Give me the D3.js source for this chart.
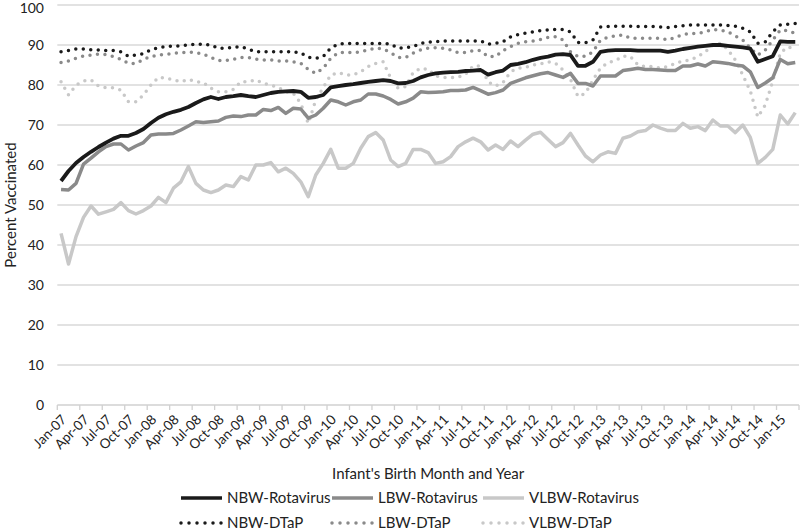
<!DOCTYPE html>
<html>
<head>
<meta charset="utf-8">
<script src="https://cdn.jsdelivr.net/npm/d3@7"></script>
<style>
  body { margin: 0; background: #fff; }
  svg { display: block; font-family: Lato, "Open Sans", sans-serif; }
</style>
</head>
<body>
<svg id="chart" width="800" height="532"></svg>
<script>
// monthly values, Jan-07 .. Mar-15 (99 months)
var nbwRota = [56,58.5,60.5,62,63.3,64.5,65.6,66.6,67.3,67.3,68,69,70.5,71.8,72.7,73.3,73.8,74.5,75.5,76.4,77,76.5,77,77.2,77.5,77.2,77,77.5,78,78.3,78.4,78.5,78.3,76.8,77,77.5,79.4,79.7,80,80.2,80.5,80.8,81,81.2,81,80.4,80.5,81,81.9,82.5,82.9,83.1,83.2,83.3,83.5,83.6,83.75,82.6,83.2,83.6,85,85.3,85.7,86.3,86.8,87.1,87.6,87.7,87.5,84.8,84.8,85.8,88.3,88.6,88.7,88.7,88.7,88.6,88.6,88.6,88.6,88.3,88.6,89,89.3,89.6,89.8,90,90,89.8,89.6,89.4,89.1,85.8,86.5,87.2,90.9,90.8,90.8]
var lbwRota = [53.9,53.75,55.4,60.2,61.7,63.3,64.6,65.25,65.25,63.75,64.75,65.6,67.5,67.75,67.75,67.9,68.75,69.75,70.8,70.6,70.8,71,71.9,72.25,72.1,72.5,72.5,73.9,73.6,74.4,72.9,74.2,74,71.7,72.5,74.2,76.25,75.8,75,75.8,76.25,77.75,77.75,77.25,76.4,75.25,75.8,76.7,78.3,78.1,78.2,78.3,78.6,78.6,78.75,79.4,78.6,77.7,78.1,78.75,80.4,81.1,81.8,82.3,82.8,83.1,82.5,81.9,82.9,80.4,80.4,79.75,82.25,82.25,82.25,83.6,83.9,84.2,83.9,83.9,83.75,83.6,83.6,84.75,84.75,85.25,84.75,85.8,85.6,85.4,85,84.75,83.3,79.4,80.5,81.8,86.4,85.3,85.6]
var vlbwRota = [42.9,35.25,42.1,46.9,49.75,47.7,48.3,48.9,50.6,48.6,47.75,48.6,49.75,51.9,50.6,54.2,55.8,59.6,55.4,53.75,53.1,53.75,55,54.6,57.1,56.25,60,60,60.6,58.3,59.2,57.9,55.8,52.1,57.5,60.4,63.9,59.2,59.2,60.4,64.2,67.1,68.1,66.25,61.25,59.6,60.4,63.9,63.9,63.1,60.4,60.8,62.1,64.6,65.8,66.7,65.8,63.75,65,63.9,66,64.6,66.2,67.7,68.2,66.4,64.6,65.6,67.9,65,62.25,60.8,62.5,63.3,62.9,66.7,67.25,68.3,68.6,70,69.2,68.6,68.6,70.4,69.2,69.6,68.6,71.25,69.75,69.75,68.1,70,66.9,60.4,61.9,63.9,72.5,70.25,73.1]
var nbwDtap = [88.3,88.6,89,89,88.8,88.75,88.6,88.6,88.3,87.2,87.5,87.8,88.8,89.3,89.6,89.75,89.8,90,90.2,90.2,90,89.2,89.2,89.4,89.6,89,88.3,88.3,88.3,88.3,88.3,88.3,88,86.9,86.7,87.1,89.3,90.2,90.4,90.4,90.4,90.4,90.4,90.4,90.2,89.2,89.3,89.6,90.4,90.7,90.8,91,91,91,91,91,91,90.2,90.4,90.8,92,92.6,93,93.3,93.6,93.75,93.9,93.9,93.3,90.6,90.6,91.25,94.5,94.6,94.7,94.7,94.7,94.6,94.6,94.6,94.5,94.4,94.6,94.8,95,95,95,95,95,94.9,94.7,94.2,93.3,90.4,90.8,93.3,95,95.2,95.4]
var lbwDtap = [85.6,86,86.7,87.25,87.5,87.7,87.6,87.1,86.4,85.4,85.4,86.4,87.1,87.5,87.7,87.9,88.1,88.2,88.1,87.7,86.9,86.1,86.1,86.4,86.9,86.9,86.5,86.25,86.3,86,86,85.8,85.4,83.9,82.9,84.2,86.7,88.1,88.1,88.1,88.3,88.75,89.2,89,88.1,86.9,86.9,88,88.75,89.2,89.3,89.2,88.75,88.1,88.1,88.6,88.6,87.1,87.1,88.6,89.6,90.4,90.8,91,91.4,91.9,92.1,91.25,88.3,87.1,87.2,88.3,91.25,91.9,92.3,92.5,91.7,91.7,91.7,91.7,91.7,91.25,91.9,92.6,92.9,92.9,93.3,93.9,93.75,93.3,92.25,91.25,89.2,87.5,88.75,91.25,93.75,93.6,92.9]
var vlbwDtap = [80.8,77.5,80,81,81.25,79.75,79.3,79.3,78.75,75.8,75.8,77.5,80,81.9,81.7,81.25,80.8,81.4,80.8,80.6,79.2,78.3,78.3,78.9,80.8,80.8,81.25,80.4,80,79.4,78.3,77.9,75.4,70.4,76.25,79.4,82.5,83.1,82.5,82.5,83.3,84.6,85.4,85.8,81.7,79.2,79.6,83.1,84.2,83.9,82.25,81.9,81.9,81.9,82.75,84.75,84.75,80.8,79.75,80.6,83.3,84.2,84.4,85,85.3,85.8,85.4,83.75,81.4,77.1,77.9,81.25,84.2,85.6,86.1,87.25,87.1,85,84.6,84.6,84.2,84.6,85.4,86,86.25,87.1,88.3,90,90.4,88.9,86.25,82.5,78.5,72,75,81,88,89.5,89]

var seriesNames = ["NBW-Rotavirus","LBW-Rotavirus","VLBW-Rotavirus","NBW-DTaP","LBW-DTaP","VLBW-DTaP"]
var yTicks = [0,10,20,30,40,50,60,70,80,90,100]

var months = d3.timeMonth.range(new Date(2007,0,1), new Date(2015,3,1))
var fmt = d3.timeFormat("%b-%y")

var svg = d3.select("#chart")
var plotL = 57.3, plotR = 799, plotT = 5, plotB = 405

var x = d3.scaleBand().domain(d3.range(months.length)).range([plotL,plotR])
var y = d3.scaleLinear().domain([0,100]).range([plotB,plotT])

// gridlines
svg.append("g").selectAll("line").data(yTicks.slice(1)).enter().append("line")
  .attr("x1",plotL).attr("x2",plotR).attr("y1",d=>y(d)).attr("y2",d=>y(d))
  .attr("stroke","#d9d9d9").attr("stroke-width",1.3)

// y labels (top one nudged down so it isn't clipped)
svg.append("g").selectAll("text").data(yTicks).enter().append("text")
  .attr("x",44).attr("y",d=>Math.max(y(d),8)).attr("dy","0.35em").attr("text-anchor","end")
  .style("font-size","14px").style("fill","#222").text(d=>d)

// x axis line + ticks every 3 months
svg.append("line").attr("x1",plotL).attr("x2",plotR).attr("y1",plotB).attr("y2",plotB)
  .attr("stroke","#d0d0d0").attr("stroke-width",1.3)
var tickIdx = d3.range(0, months.length+1, 3)
svg.append("g").selectAll("line").data(tickIdx).enter().append("line")
  .attr("x1",d=>plotL+d*x.step()).attr("x2",d=>plotL+d*x.step())
  .attr("y1",plotB).attr("y2",plotB+5).attr("stroke","#d0d0d0").attr("stroke-width",1.3)

svg.append("g").selectAll("text").data(d3.range(0, months.length, 3)).enter().append("text")
  .attr("transform",d=>"translate("+(x(d)+x.bandwidth()/2+3)+","+(plotB+12)+") rotate(-45)")
  .attr("text-anchor","end").attr("dy","0.35em")
  .style("font-size","13.5px").style("fill","#222").text(d=>fmt(months[d]))

// axis titles
svg.append("text").attr("x",(plotL+plotR)/2).attr("y",474).attr("dy","0.35em").attr("text-anchor","middle")
  .style("font-size","15px").style("fill","#222").text("Infant's Birth Month and Year")
svg.append("text").attr("transform","translate(11,205) rotate(-90)").attr("dy","0.35em").attr("text-anchor","middle")
  .style("font-size","15px").style("fill","#222").text("Percent Vaccinated")

var styles = [
  {data:nbwRota, color:"#1a1a1a", dash:null},
  {data:lbwRota, color:"#8a8a8a", dash:null},
  {data:vlbwRota, color:"#c8c8c8", dash:null},
  {data:nbwDtap, color:"#1a1a1a", dash:"0 7.5"},
  {data:lbwDtap, color:"#8a8a8a", dash:"0 7.5"},
  {data:vlbwDtap, color:"#c8c8c8", dash:"0 7.5"}
]

var line = d3.line().x((d,i)=>x(i)+x.bandwidth()/2).y(d=>y(d))

var drawOrder = [5,4,3,2,1,0]
drawOrder.forEach(function(k){
  var s = styles[k]
  var p = svg.append("path").datum(s.data).attr("d",line)
    .attr("fill","none").attr("stroke",s.color).attr("stroke-width",k==0?3.8:3.5)
    .attr("stroke-linejoin","round")
  if (s.dash) { p.attr("stroke-dasharray",s.dash).attr("stroke-linecap","round") }
})

// legend
var legX = [179,330,481], legY = [498,523]
seriesNames.forEach(function(name,k){
  var lx = legX[k%3], ly = legY[Math.floor(k/3)]
  var l = svg.append("line").attr("x1",lx+2).attr("x2",lx+43).attr("y1",ly).attr("y2",ly)
    .attr("stroke",styles[k].color).attr("stroke-width",3.5)
  if (styles[k].dash) { l.attr("stroke-dasharray","0 8").attr("stroke-linecap","round") }
  svg.append("text").attr("x",lx+48).attr("y",ly).attr("dy","0.35em")
    .style("font-size","15px").style("fill","#222").text(name)
})
</script>
</body>
</html>
